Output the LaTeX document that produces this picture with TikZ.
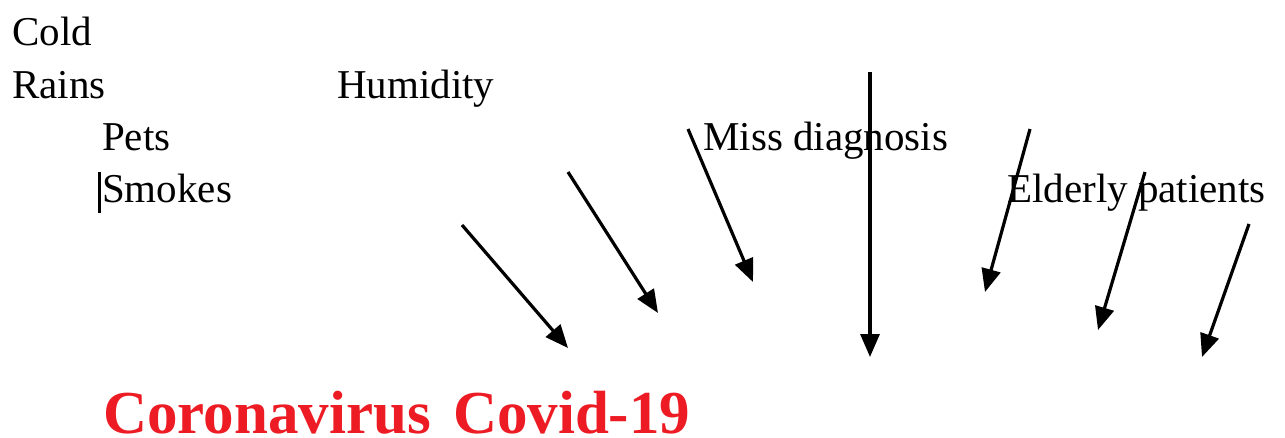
\documentclass[tikz,border=0pt]{standalone}
\usepackage{fontspec}
\setmainfont{Liberation Serif}
\usetikzlibrary{arrows.meta}
\definecolor{covidred}{RGB}{237,28,36}
\tikzset{
  lbl/.style={anchor=base west, inner sep=0pt, font=\fontsize{41}{41}\selectfont, text=black},
  title/.style={anchor=base west, inner sep=0pt, font=\fontsize{61}{61}\selectfont\bfseries, text=covidred},
  arr/.style={line width=3.2pt, -{Triangle[length=23pt,width=19pt]}},
  cursorbar/.style={line width=3pt}
}
\begin{document}
\begin{tikzpicture}[x=1pt,y=-1pt]
\useasboundingbox (0,0) rectangle (1285,437);
% labels
\node[lbl] (cold) at (12,45) {Cold};
\node[lbl] (rains) at (12,98) {Rains};
\node[lbl] (humidity) at (337,98) {Humidity};
\node[lbl] (pets) at (102,150) {Pets};
\node[lbl] (smokes) at (102,202) {Smokes};
\node[lbl] (miss) at (703,150) {Miss diagnosis};
\node[lbl] (elderly) at (1007,202) {Elderly patients};
\node[title] (covid) at (103,433) {Coronavirus\hspace{7pt} Covid-19};
% text cursor
\coordinate (c1) at (99,172);
\coordinate (c2) at (99,213);
\draw[cursorbar] (c1) -- (c2);
% arrow endpoints
\coordinate (s1) at (462,225); \coordinate (e1) at (568,348);
\coordinate (s2) at (568,172); \coordinate (e2) at (658,313);
\coordinate (s3) at (688,129); \coordinate (e3) at (753,282);
\coordinate (s4) at (870,72);  \coordinate (e4) at (870,357);
\coordinate (s5) at (1030,129); \coordinate (e5) at (985,292);
\coordinate (s6) at (1145,172); \coordinate (e6) at (1098,330);
\coordinate (s7) at (1249,224); \coordinate (e7) at (1202,357);
\draw[arr] (s1) -- (e1);
\draw[arr] (s2) -- (e2);
\draw[arr] (s3) -- (e3);
\draw[arr] (s4) -- (e4);
\draw[arr] (s5) -- (e5);
\draw[arr] (s6) -- (e6);
\draw[arr] (s7) -- (e7);
\end{tikzpicture}
\end{document}
